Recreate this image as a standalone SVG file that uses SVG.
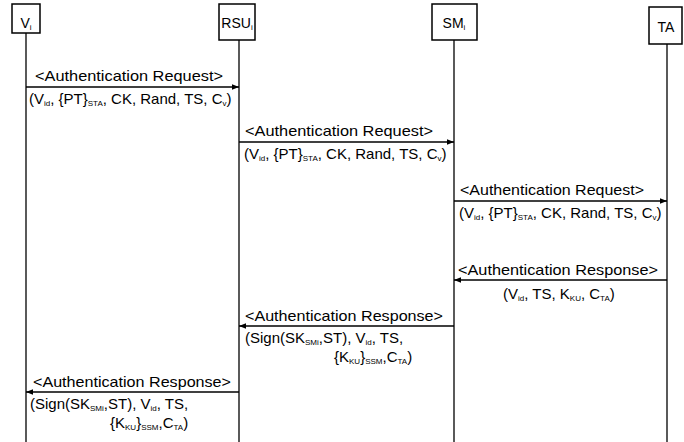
<svg xmlns="http://www.w3.org/2000/svg" width="684" height="442" viewBox="0 0 684 442">
<style>
text{font-family:"Liberation Sans",Arial,sans-serif;font-size:15px;fill:#000}
.sub{font-size:8px;baseline-shift:-2px}
.life{stroke:#000;stroke-width:1.3}
.msg{stroke:#000;stroke-width:1.3;fill:none;marker-end:url(#ah)}
.box{fill:none;stroke:#000;stroke-width:1.5}
.lbl{font-size:14px}
</style>
<defs>
<marker id="ah" viewBox="0 0 10 10" refX="10" refY="5" markerWidth="7" markerHeight="7" markerUnits="userSpaceOnUse" orient="auto">
<path d="M0,1 L10,5 L0,9 z" fill="#000"/>
</marker>
</defs>
<rect x="0" y="0" width="684" height="442" fill="#ffffff"/>
<g id="lifelines">
<line class="life" x1="26" y1="33" x2="26" y2="442"/>
<line class="life" x1="239" y1="40" x2="239" y2="442"/>
<line class="life" x1="454" y1="40" x2="454" y2="442"/>
<line class="life" x1="667" y1="44" x2="667" y2="442"/>
</g>
<g id="node-vi">
<polygon class="box" points="12,4 40,4 40,33 12,33"/>
<text class="lbl" x="26" y="28" text-anchor="middle">V<tspan class="sub">i</tspan></text>
</g>
<g id="node-rsu">
<polygon class="box" points="219,4 255,4 255,40 219,40"/>
<text class="lbl" x="237" y="28" text-anchor="middle" font-size="13">RSU<tspan class="sub">i</tspan></text>
</g>
<g id="node-sm">
<polygon class="box" points="432,4 477,4 477,40 432,40"/>
<text class="lbl" x="454" y="28" text-anchor="middle">SM<tspan class="sub">i</tspan></text>
</g>
<g id="node-ta">
<polygon class="box" points="649,7 682,7 682,44 649,44"/>
<text class="lbl" x="666" y="32" text-anchor="middle">TA</text>
</g>
<g id="connectors">
<line class="msg" x1="26" y1="87" x2="239" y2="87"/>
<line class="msg" x1="239" y1="142" x2="454" y2="142"/>
<line class="msg" x1="454" y1="201" x2="667" y2="201"/>
<line class="msg" x1="667" y1="280" x2="454" y2="280"/>
<line class="msg" x1="454" y1="326" x2="239" y2="326"/>
<line class="msg" x1="239" y1="392" x2="26" y2="392"/>
</g>
<g id="labels">
<text x="35" y="81" font-size="16" textLength="188" lengthAdjust="spacingAndGlyphs">&lt;Authentication Request&gt;</text>
<text x="29" y="104">(V<tspan class="sub">id</tspan>, {PT}<tspan class="sub">STA</tspan>, CK, Rand, TS, C<tspan class="sub">v</tspan>)</text>
<text x="245" y="136" font-size="16" textLength="188" lengthAdjust="spacingAndGlyphs">&lt;Authentication Request&gt;</text>
<text x="244" y="159">(V<tspan class="sub">id</tspan>, {PT}<tspan class="sub">STA</tspan>, CK, Rand, TS, C<tspan class="sub">v</tspan>)</text>
<text x="460" y="195" font-size="16" textLength="184" lengthAdjust="spacingAndGlyphs">&lt;Authentication Request&gt;</text>
<text x="459" y="218">(V<tspan class="sub">id</tspan>, {PT}<tspan class="sub">STA</tspan>, CK, Rand, TS, C<tspan class="sub">v</tspan>)</text>
<text x="458" y="275" font-size="16" textLength="200" lengthAdjust="spacingAndGlyphs">&lt;Authentication Response&gt;</text>
<text x="503" y="299">(V<tspan class="sub">id</tspan>, TS, K<tspan class="sub">KU</tspan>, C<tspan class="sub">TA</tspan>)</text>
<text x="245" y="321" font-size="16" textLength="198" lengthAdjust="spacingAndGlyphs">&lt;Authentication Response&gt;</text>
<text x="245" y="343">(Sign(SK<tspan class="sub">SMi</tspan>,ST), V<tspan class="sub">id</tspan>, TS,</text>
<text x="334" y="362">{K<tspan class="sub">KU</tspan>}<tspan class="sub">SSM</tspan>,C<tspan class="sub">TA</tspan>)</text>
<text x="33" y="387" font-size="16" textLength="198" lengthAdjust="spacingAndGlyphs">&lt;Authentication Response&gt;</text>
<text x="30" y="409">(Sign(SK<tspan class="sub">SMi</tspan>,ST), V<tspan class="sub">id</tspan>, TS,</text>
<text x="110" y="428">{K<tspan class="sub">KU</tspan>}<tspan class="sub">SSM</tspan>,C<tspan class="sub">TA</tspan>)</text>
</g>
</svg>
